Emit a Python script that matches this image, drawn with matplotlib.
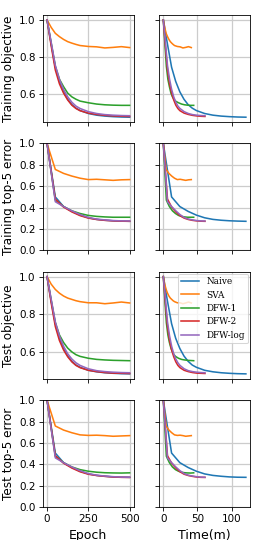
import numpy as np
import matplotlib
matplotlib.use("Agg")
import matplotlib.pyplot as plt
from matplotlib.ticker import MultipleLocator

# -------------------------
# Data
# -------------------------
methods = ["Naive", "SVA", "DFW-1", "DFW-2", "DFW-log"]
colors = ["C0", "C1", "C2", "C3", "C4"]

# total wall-clock minutes for 500 epochs
total_minutes = [121, 41, 44.5, 61, 61]

epochs_obj = [0, 25, 50, 75, 100, 125, 150, 175, 200, 250, 300, 350, 400, 450, 500]
epochs_err = [0, 50, 100, 150, 200, 250, 300, 350, 400, 450, 500]

train_obj = {
    "Naive":   [1.0, 0.87, 0.745, 0.668, 0.612, 0.572, 0.543, 0.524, 0.511, 0.495, 0.486, 0.481, 0.478, 0.476, 0.475],
    "SVA":     [1.0, 0.96, 0.928, 0.91, 0.895, 0.883, 0.875, 0.868, 0.862, 0.857, 0.855, 0.849, 0.852, 0.856, 0.851],
    "DFW-1":   [1.0, 0.875, 0.75, 0.68, 0.64, 0.605, 0.585, 0.572, 0.562, 0.553, 0.546, 0.542, 0.54, 0.539, 0.539],
    "DFW-2":   [1.0, 0.86, 0.73, 0.655, 0.605, 0.568, 0.54, 0.522, 0.51, 0.497, 0.49, 0.485, 0.482, 0.48, 0.479],
    "DFW-log": [1.0, 0.88, 0.755, 0.68, 0.625, 0.585, 0.556, 0.535, 0.522, 0.505, 0.495, 0.489, 0.486, 0.484, 0.483],
}

train_err = {
    "Naive":   [1.0, 0.50, 0.41, 0.365, 0.33, 0.305, 0.29, 0.282, 0.277, 0.274, 0.272],
    "SVA":     [1.0, 0.757, 0.72, 0.695, 0.675, 0.662, 0.665, 0.66, 0.655, 0.66, 0.662],
    "DFW-1":   [1.0, 0.47, 0.41, 0.37, 0.345, 0.327, 0.318, 0.313, 0.31, 0.31, 0.31],
    "DFW-2":   [1.0, 0.48, 0.405, 0.36, 0.325, 0.302, 0.289, 0.281, 0.276, 0.273, 0.272],
    "DFW-log": [1.0, 0.455, 0.41, 0.37, 0.335, 0.308, 0.293, 0.285, 0.279, 0.276, 0.275],
}

test_obj = {
    "Naive":   [1.0, 0.87, 0.75, 0.672, 0.618, 0.578, 0.55, 0.53, 0.518, 0.502, 0.494, 0.489, 0.486, 0.484, 0.483],
    "SVA":     [1.0, 0.96, 0.932, 0.912, 0.897, 0.886, 0.879, 0.872, 0.867, 0.861, 0.861, 0.856, 0.86, 0.865, 0.86],
    "DFW-1":   [1.0, 0.875, 0.755, 0.69, 0.65, 0.62, 0.6, 0.585, 0.576, 0.566, 0.56, 0.557, 0.555, 0.554, 0.553],
    "DFW-2":   [1.0, 0.86, 0.735, 0.66, 0.61, 0.574, 0.547, 0.528, 0.516, 0.502, 0.495, 0.49, 0.487, 0.486, 0.485],
    "DFW-log": [1.0, 0.88, 0.76, 0.685, 0.63, 0.59, 0.562, 0.542, 0.528, 0.51, 0.5, 0.495, 0.492, 0.49, 0.489],
}

test_err = {
    "Naive":   [1.0, 0.505, 0.415, 0.37, 0.335, 0.31, 0.296, 0.288, 0.282, 0.279, 0.278],
    "SVA":     [1.0, 0.758, 0.72, 0.695, 0.675, 0.67, 0.672, 0.668, 0.662, 0.665, 0.668],
    "DFW-1":   [1.0, 0.475, 0.415, 0.375, 0.35, 0.335, 0.326, 0.321, 0.319, 0.318, 0.32],
    "DFW-2":   [1.0, 0.48, 0.41, 0.365, 0.33, 0.307, 0.295, 0.287, 0.281, 0.278, 0.277],
    "DFW-log": [1.0, 0.46, 0.415, 0.375, 0.34, 0.313, 0.298, 0.29, 0.284, 0.28, 0.279],
}

rows = [
    ("Training objective", epochs_obj, train_obj),
    ("Training top-5 error", epochs_err, train_err),
    ("Test objective", epochs_obj, test_obj),
    ("Test top-5 error", epochs_err, test_err),
]

# -------------------------
# Plot (3.6 x 7.2 in at 75 dpi -> 270 x 540 px)
# -------------------------
fig, axes = plt.subplots(4, 2, figsize=(3.6, 7.2), dpi=75, sharex="col", sharey="row")
fig.subplots_adjust(left=0.159, right=0.926, top=0.972, bottom=0.061, wspace=0.28, hspace=0.2)

for r, (ylabel, ep, data) in enumerate(rows):
    ax_e, ax_t = axes[r]
    for m, c, tot in zip(methods, colors, total_minutes):
        ep_arr = np.array(ep, dtype=float)
        ax_e.plot(ep_arr, data[m], color=c, lw=1.5, label=m)
        ax_t.plot(ep_arr / 500.0 * tot, data[m], color=c, lw=1.5, label=m)
    ax_e.set_ylabel(ylabel, fontsize=11.5)
    if "error" in ylabel:
        ax_e.set_ylim(0, 1)
    for ax in (ax_e, ax_t):
        ax.yaxis.set_major_locator(MultipleLocator(0.2))
        ax.grid(True, color="0.8", lw=1.2)
        ax.set_axisbelow(True)
        ax.tick_params(labelsize=10)

axes[0, 0].set_xticks([0, 250, 500])
axes[0, 1].set_xticks([0, 50, 100])
axes[3, 0].set_xlabel("Epoch", fontsize=12)
axes[3, 1].set_xlabel("Time(m)", fontsize=12)

axes[2, 1].legend(loc="upper right", prop={"family": "DejaVu Serif", "size": 8.5},
                  borderaxespad=0.2)

plt.savefig("out.png", dpi=75)
